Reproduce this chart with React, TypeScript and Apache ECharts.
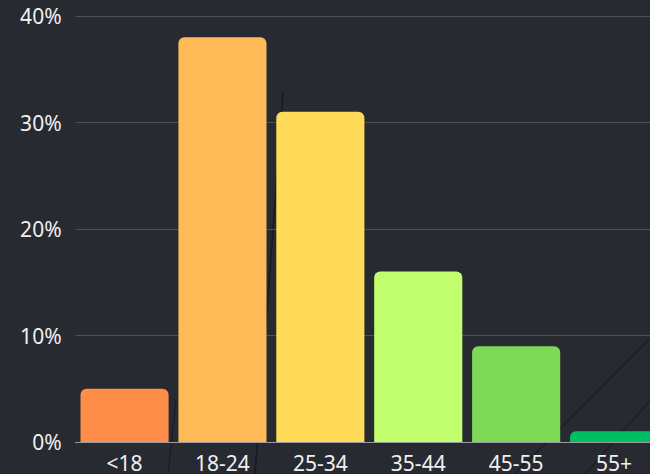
import React, { useEffect, useRef } from "react";
import * as echarts from "echarts";

const categories = ["<18", "18-24", "25-34", "35-44", "45-55", "55+"];
const values = [5, 38, 31, 16, 9, 1];
const colors = ["#FF8E4A", "#FDBA57", "#FFDB57", "#C2FF6E", "#7ED957", "#00BF63"];
const yTicks = [0, 10, 20, 30, 40];

export default function App() {
  const ref = useRef<HTMLDivElement>(null);
  useEffect(() => {
    if (!ref.current) return;
    const chart = echarts.init(ref.current, undefined, { renderer: "svg" });
    const font = "'Noto Sans', sans-serif";
    chart.setOption({
      animation: false,
      backgroundColor: "#282a31",
      graphic: [
        { type: "line", z: -10, silent: true, shape: { x1: 283, y1: 93, x2: 255, y2: 474 }, style: { stroke: "rgba(10,12,16,0.55)", lineWidth: 1.5 } },
        { type: "line", z: -10, silent: true, shape: { x1: 176, y1: 400, x2: 168, y2: 474 }, style: { stroke: "rgba(10,12,16,0.45)", lineWidth: 1.2 } },
        { type: "line", z: -10, silent: true, shape: { x1: 655, y1: 333, x2: 515, y2: 474 }, style: { stroke: "rgba(10,12,16,0.45)", lineWidth: 1.2 } },
        { type: "line", z: -10, silent: true, shape: { x1: 655, y1: 395, x2: 585, y2: 474 }, style: { stroke: "rgba(10,12,16,0.4)", lineWidth: 1.2 } },
      ],
      grid: { left: 75.6, right: 0, top: 16, bottom: 32, containLabel: false },
      xAxis: {
        type: "category",
        data: categories,
        axisTick: { show: false },
        axisLine: { show: true, lineStyle: { color: "#9a9ca0", width: 1 } },
        axisLabel: { color: "#f0f0f0", fontSize: 21, fontFamily: font, margin: 10 },
      },
      yAxis: {
        type: "value",
        min: 0,
        max: 40,
        interval: 10,
        axisLine: { show: false },
        axisTick: { show: false },
        splitLine: { lineStyle: { color: "#4e5056", width: 1 } },
        axisLabel: {
          color: "#f0f0f0",
          fontSize: 21,
          fontFamily: font,
          margin: 14,
          formatter: (v: number) => (yTicks.includes(v) ? v + "%" : ""),
        },
      },
      series: [
        {
          type: "bar",
          barCategoryGap: "10%",
          data: values.map((v, i) => ({
            value: v,
            itemStyle: { color: colors[i], borderRadius: [6, 6, 0, 0] },
          })),
        },
      ],
    });
    return () => chart.dispose();
  }, []);
  return (
    <div style={{ position: "fixed", left: 0, top: 0, width: 650, height: 474, overflow: "hidden", background: "#282a31" }}>
      <div ref={ref} style={{ width: 663, height: 474 }} />
    </div>
  );
}
